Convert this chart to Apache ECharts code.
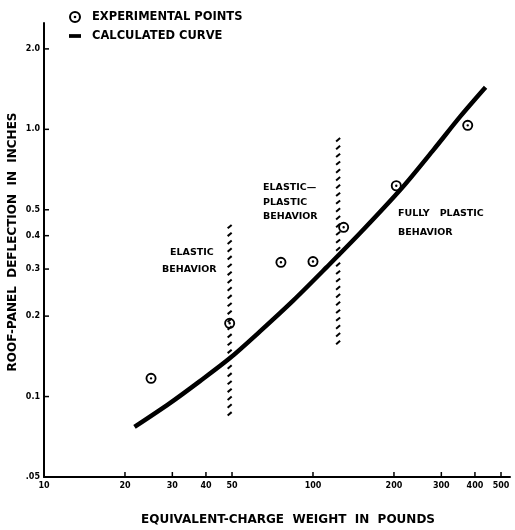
<!DOCTYPE html>
<html><head><meta charset="utf-8">
<script src="https://cdn.jsdelivr.net/npm/echarts@6/dist/echarts.min.js"></script>
<style>html,body{margin:0;padding:0;background:#fff}#c{width:515px;height:530px}</style>
</head><body><div id="c"></div>
<script>
const xTicks = [10, 20, 30, 40, 50, 100, 200, 300, 400, 500];
const xTickLabels = ['10', '20', '30', '40', '50', '100', '200', '300', '400', '500'];
const yTicks = [0.05, 0.1, 0.2, 0.3, 0.4, 0.5, 1.0, 2.0];
const yTickLabels = ['.05', '0.1', '0.2', '0.3', '0.4', '0.5', '1.0', '2.0'];
const experimentalX = [25, 49, 76, 100, 130, 204, 376];
const experimentalY = [0.117, 0.188, 0.318, 0.32, 0.43, 0.615, 1.035];
const curveX = [21.7, 29.3, 37.9, 49, 63.4, 84.2, 112.5, 150, 214, 281, 353.6, 438];
const curveY = [0.077, 0.0943, 0.114, 0.139, 0.175, 0.228, 0.305, 0.41, 0.603, 0.84, 1.12, 1.437];
const boundaryX = [49, 124];
const boundaryLow = [0.08, 0.157];
const boundaryHigh = [0.44, 0.93];

const FONT = '"DejaVu Sans"';
const ring = 'path://M5,0A5,5,0,1,1,5,10A5,5,0,1,1,5,0ZM5,1.7A3.3,3.3,0,1,0,5,8.3A3.3,3.3,0,1,0,5,1.7ZM5,3.9A1.1,1.1,0,1,1,5,6.1A1.1,1.1,0,1,1,5,3.9Z';
const dash = 'path://M0,0H9V2.8H0Z';

const chart = echarts.init(document.getElementById('c'));
const annotations = [
  {t: 'ELASTIC', x: 170, y: 253}, {t: 'BEHAVIOR', x: 162, y: 270},
  {t: 'ELASTIC\u2014', x: 263, y: 188}, {t: 'PLASTIC', x: 263, y: 203}, {t: 'BEHAVIOR', x: 263, y: 217},
  {t: 'FULLY   PLASTIC', x: 398, y: 214}, {t: 'BEHAVIOR', x: 398, y: 233}
];
chart.setOption({
  animation: false,
  backgroundColor: '#fff',
  grid: {left: 44, right: 5, top: 23, bottom: 53, containLabel: false, outerBoundsMode: 'none'},
  legend: {
    orient: 'vertical', left: 64, top: 6, itemWidth: 12, itemHeight: 12, itemGap: 7,
    textStyle: {color: '#000', fontFamily: FONT, fontWeight: 'bold', fontSize: 11.5, padding: [0, 0, 0, 6]},
    data: [
      {name: 'EXPERIMENTAL POINTS', icon: ring, itemStyle: {color: '#000'}},
      {name: 'CALCULATED CURVE', icon: dash, itemStyle: {color: '#000'}}
    ]
  },
  xAxis: {
    type: 'log', logBase: 10, min: 10, max: 540,
    name: 'EQUIVALENT-CHARGE  WEIGHT  IN  POUNDS', nameLocation: 'middle', nameGap: 37,
    nameTextStyle: {color: '#000', fontFamily: FONT, fontWeight: 'bold', fontSize: 12, padding: [0, 0, 0, 22]},
    axisLine: {lineStyle: {color: '#000', width: 2}},
    axisTick: {show: false}, axisLabel: {show: false}, splitLine: {show: false}, minorTick: {show: false}
  },
  yAxis: {
    type: 'log', logBase: 10, min: 0.05, max: 2.5,
    name: 'ROOF-PANEL  DEFLECTION  IN  INCHES', nameLocation: 'middle', nameGap: 25,
    nameTextStyle: {color: '#000', fontFamily: FONT, fontWeight: 'bold', fontSize: 12, padding: [0, 0, 0, 16]},
    axisLine: {lineStyle: {color: '#000', width: 2}},
    axisTick: {show: false}, axisLabel: {show: false}, splitLine: {show: false}, minorTick: {show: false}
  },
  graphic: annotations.map(a => ({
    type: 'text', left: a.x, top: a.y - 5,
    style: {text: a.t, fill: '#000', font: 'bold 9.5px ' + FONT}
  })),
  series: [
    {
      type: 'custom', name: 'boundaries', silent: true,
      data: boundaryX.map((x, i) => [x, boundaryLow[i], boundaryHigh[i]]),
      encode: {x: 0, y: [1, 2]},
      renderItem: (params, api) => {
        const top = api.coord([api.value(0), api.value(2)]);
        const bot = api.coord([api.value(0), api.value(1)]);
        const children = [];
        for (let y = top[1] + 2; y <= bot[1] - 1; y += 7.8) {
          children.push({type: 'line', shape: {x1: top[0] - 2, y1: y + 1.7, x2: top[0] + 2, y2: y - 1.7},
            style: {stroke: '#000', lineWidth: 2}});
        }
        return {type: 'group', children};
      }
    },
    {
      type: 'line', name: 'CALCULATED CURVE', smooth: 0.3, symbol: 'none',
      data: curveX.map((x, i) => [x, curveY[i]]),
      lineStyle: {color: '#000', width: 4.5}, itemStyle: {color: '#000'}
    },
    {
      type: 'scatter', name: 'EXPERIMENTAL POINTS', symbol: ring, symbolSize: 11,
      data: experimentalX.map((x, i) => [x, experimentalY[i]]),
      itemStyle: {color: '#000', opacity: 1}
    },
    {
      type: 'custom', name: 'xticks', silent: true,
      data: xTicks.map(v => [v, 0.05]),
      renderItem: (params, api) => {
        const p = api.coord([api.value(0), api.value(1)]);
        return {type: 'group', children: [
          {type: 'line', shape: {x1: p[0], y1: p[1], x2: p[0], y2: p[1] - 5}, style: {stroke: '#000', lineWidth: 1.5}},
          {type: 'text', style: {text: xTickLabels[params.dataIndex], x: p[0], y: p[1] + 5, align: 'center', verticalAlign: 'top',
            font: 'bold 8px ' + FONT, fill: '#000'}}
        ]};
      }
    },
    {
      type: 'custom', name: 'yticks', silent: true,
      data: yTicks.map(v => [10, v]),
      renderItem: (params, api) => {
        const p = api.coord([api.value(0), api.value(1)]);
        return {type: 'group', children: [
          {type: 'line', shape: {x1: p[0], y1: p[1], x2: p[0] + 5, y2: p[1]}, style: {stroke: '#000', lineWidth: 1.5}},
          {type: 'text', style: {text: yTickLabels[params.dataIndex], x: p[0] - 4, y: p[1], align: 'right', verticalAlign: 'middle',
            font: 'bold 8px ' + FONT, fill: '#000'}}
        ]};
      }
    }
  ]
});
</script></body></html>
